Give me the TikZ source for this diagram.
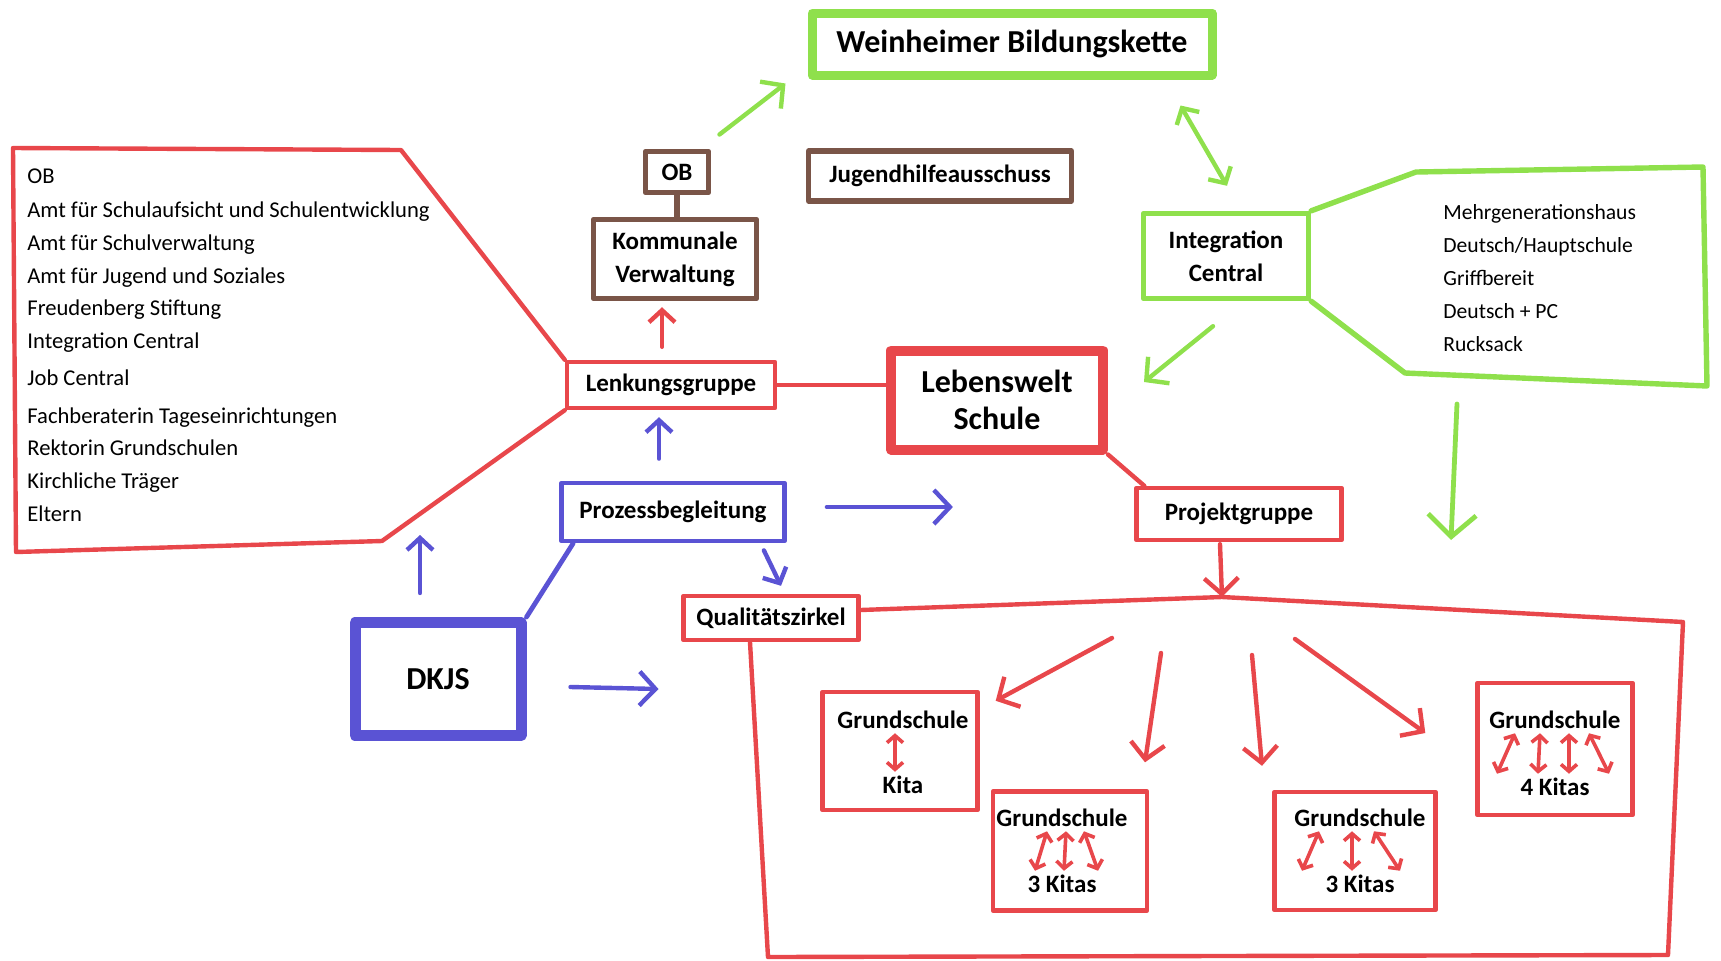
\documentclass[tikz,border=0pt]{standalone}
\usepackage{fontspec}
\setmainfont{Carlito}
\usetikzlibrary{arrows.meta,calc}
\definecolor{mred}{HTML}{E8474B}
\definecolor{mgreen}{HTML}{8FE04C}
\definecolor{mblue}{HTML}{5A53D4}
\definecolor{mbrown}{HTML}{7A5548}
\begin{document}
\begin{tikzpicture}[x=0.5pt,y=-0.5pt,line cap=round,line join=round,
 lbl/.style={font=\bfseries\fontsize{12.5}{16.5}\selectfont,align=center,inner sep=1pt},
 big/.style={font=\bfseries\fontsize{16}{18.5}\selectfont,align=center,inner sep=1pt},
 item/.style={font=\fontsize{11.3}{13}\selectfont,anchor=base west,inner sep=0pt},
 rbox/.style={draw=mred,line width=2.2pt},
 gbox/.style={draw=mgreen,line width=2.7pt},
 bbox/.style={draw=mblue,line width=2.4pt},
 brbox/.style={draw=mbrown,line width=2.7pt},
 tipS/.style={line width=2.2pt,-{Straight Barb[length=6pt,width=13pt]}},
 tipM/.style={line width=2.2pt,-{Straight Barb[length=8pt,width=17pt]}},
 tipL/.style={line width=2.4pt,-{Straight Barb[length=11pt,width=24pt]}},
 tipD/.style={line width=2.2pt,{Straight Barb[length=6pt,width=13pt]}-{Straight Barb[length=6pt,width=13pt]}},
 kit/.style={draw=mred,line width=1.8pt,{Straight Barb[length=3.5pt,width=8pt]}-{Straight Barb[length=3.5pt,width=8pt]}}
]
\useasboundingbox (0,0) rectangle (1721,960);

% oben
\node[gbox,line width=4.5pt,big,minimum width=200pt,minimum height=31pt] (wbk) at (1012,44) {Weinheimer Bildungskette};
\node[brbox,lbl,minimum width=31.5pt,minimum height=20.5pt] (ob) at (677,172) {OB};
\node[brbox,lbl,minimum width=81.5pt,minimum height=39.5pt] (kv) at (675,259) {Kommunale\\Verwaltung};
\node[brbox,lbl,minimum width=131.5pt,minimum height=25pt] (jha) at (940,176) {Jugendhilfeausschuss};
\node[gbox,lbl,minimum width=82.5pt,minimum height=42.5pt] (ic) at (1226,256) {Integration\\Central};

% mitte
\node[rbox,lbl,minimum width=104pt,minimum height=23pt] (lenk) at (671,385) {Lenkungsgruppe};
\node[rbox,line width=5pt,big,minimum width=106pt,minimum height=49.5pt] (lws) at (997,400) {Lebenswelt\\Schule};
\node[bbox,lbl,minimum width=111.5pt,minimum height=29pt] (pb) at (673,512) {Prozessbegleitung};
\node[rbox,lbl,minimum width=102.5pt,minimum height=26pt] (pg) at (1239,514) {Projektgruppe};
\node[bbox,line width=5.5pt,big,minimum width=83pt,minimum height=56.5pt] (dkjs) at (438,679) {DKJS};
\node[rbox,lbl,minimum width=87.5pt,minimum height=22pt] (qz) at (771,618) {Qualitätszirkel};

% Mitglieder links
\foreach \yy/\txt [count=\i] in {183/OB, 217/Amt für Schulaufsicht und Schulentwicklung, 250/Amt für Schulverwaltung,
  283/Amt für Jugend und Soziales, 315/Freudenberg Stiftung, 348/Integration Central, 385/Job Central,
  423/Fachberaterin Tageseinrichtungen, 455/Rektorin Grundschulen, 488/Kirchliche Träger, 521/Eltern}
  \node[item] (mit\i) at (27,\yy) {\txt};
\draw[rbox] (lenk.north west) -- (401,150) -- (13,148) -- (16,552) -- (382,541) -- (lenk.south west);

% Angebote rechts
\foreach \yy/\txt [count=\i] in {219/Mehrgenerationshaus, 252/{Deutsch/Hauptschule}, 285/Griffbereit, 318/Deutsch + PC, 351/Rucksack}
  \node[item,font=\fontsize{10.8}{13}\selectfont] (ang\i) at (1443,\yy) {\txt};
\draw[gbox] (ic.north east) -- (1416,172) -- (1703,167) -- (1707,386) -- (1405,373) coordinate (gbot) -- (ic.south east);

% Verbindungen
\draw[brbox] (ob.south) -- (ob.south |- kv.north);
\draw[rbox] (lenk.east) -- (lenk.east -| lws.west);
\draw[rbox] (lws.south east) -- ([xshift=5pt]pg.north west);
\draw[bbox] (dkjs.north east) -- ([xshift=7pt]pb.south west);
\draw[rbox] ([yshift=4pt]qz.east) -- (1222,597) coordinate (qtop) -- (1683,622) -- (1668,955) -- (768,957) -- ([xshift=-10.5pt]qz.south);

% Pfeile
\draw[mred,tipS] ($(lenk.north)+(-9,-13)$) -- ($(kv.south)+(-13,6)$);
\draw[mblue,tipS] ($(pb.north)+(-14,-22)$) -- ($(lenk.south)+(-12,7)$);
\draw[mblue,tipS] ($(pb.south east)+(-23,7)$) -- ($(qz.north)+(10,-8)$);
\draw[mblue,tipM] ($(pb.east)+(40,-5)$) -- ($(pb.east)+(166,-5)$);
\draw[mblue,tipS] ($(dkjs.north)+(-18,-24)$) -- ($(dkjs.north)+(-18,-82)$);
\draw[mblue,tipM] ($(dkjs.east)+(44,8)$) -- ($(dkjs.east)+(132,10)$);
\draw[mgreen,tipM] ($(wbk.south west)+(-88,55)$) -- ($(wbk.south west)+(-22,4)$);
\draw[mgreen,tipD] ($(wbk.south east)+(-36,26)$) -- ($(ic.north)+(1,-25)$);
\draw[mgreen,tipM] ($(ic.south)+(-13,25)$) -- ($(lws.east)+(36,-18)$);
\draw[mgreen,tipL] ($(gbot)+(52,31)$) -- ($(gbot)+(46,167)$);
\draw[mred,tipM] ($(pg.south)+(-19,2)$) -- (qtop);

% Grundschulen
\node[rbox,minimum width=77.5pt,minimum height=59pt] (gs1) at (900,751) {};
\node[lbl] (gs1t) at (903,720) {Grundschule};
\node[lbl] (gs1k) at (903,785) {Kita};
\draw[kit] ($(gs1t.south)+(-8,2)$) -- ($(gs1k.north)+(-8,-2)$);

\node[rbox,minimum width=77pt,minimum height=59.5pt] (gs2) at (1070,851) {};
\node[lbl] (gs2t) at (1062,818) {Grundschule};
\node[lbl] (gs2k) at (1062,884) {3 Kitas};
\draw[kit] ($(gs2t.south)+(-15,2)$) -- ($(gs2k.north)+(-27,-2)$);
\draw[kit] ($(gs2t.south)+(4,2)$) -- ($(gs2k.north)+(2,-2)$);
\draw[kit] ($(gs2t.south)+(22,2)$) -- ($(gs2k.north)+(36,-2)$);

\node[rbox,minimum width=80.5pt,minimum height=59pt] (gs3) at (1355,851) {};
\node[lbl] (gs3t) at (1360,818) {Grundschule};
\node[lbl] (gs3k) at (1360,884) {3 Kitas};
\draw[kit] ($(gs3t.south)+(-41,2)$) -- ($(gs3k.north)+(-58,-2)$);
\draw[kit] ($(gs3t.south)+(-8,2)$) -- ($(gs3k.north)+(-8,-2)$);
\draw[kit] ($(gs3t.south)+(14,2)$) -- ($(gs3k.north)+(40,-2)$);

\node[rbox,minimum width=77.5pt,minimum height=66pt] (gs4) at (1555,749) {};
\node[lbl] (gs4t) at (1555,720) {Grundschule};
\node[lbl] (gs4k) at (1555,787) {4 Kitas};
\draw[kit] ($(gs4t.south)+(-40,2)$) -- ($(gs4k.north)+(-58,-2)$);
\draw[kit] ($(gs4t.south)+(-15,2)$) -- ($(gs4k.north)+(-17,-2)$);
\draw[kit] ($(gs4t.south)+(14,2)$) -- ($(gs4k.north)+(14,-2)$);
\draw[kit] ($(gs4t.south)+(34,2)$) -- ($(gs4k.north)+(54,-2)$);

\draw[mred,tipM] ($(qtop)+(-110,41)$) -- ($(gs1.north east)+(16,11)$);
\draw[mred,tipM] ($(qtop)+(-61,56)$) -- ($(gs2.north)+(75,-27)$);
\draw[mred,tipM] ($(qtop)+(30,58)$) -- ($(gs3.north)+(-93,-24)$);
\draw[mred,tipM] ($(qtop)+(73,42)$) -- ($(gs4.west)+(-50,-16)$);
\end{tikzpicture}
\end{document}
